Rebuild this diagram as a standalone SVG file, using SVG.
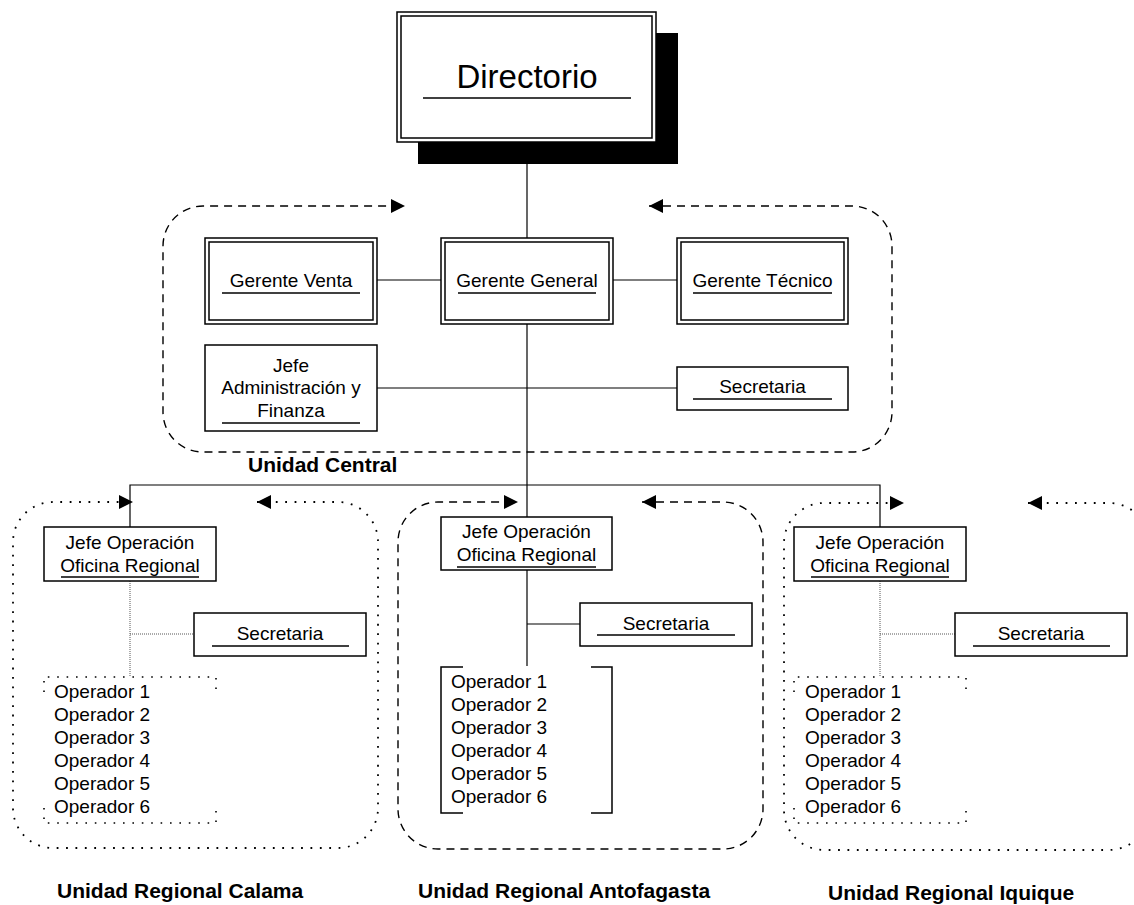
<svg xmlns="http://www.w3.org/2000/svg" width="1134" height="905" viewBox="0 0 1134 905">
  <style>
    text { font-family: "Liberation Sans", Arial, sans-serif; fill: #000; }
    .t { font-size: 19px; text-anchor: middle; }
    .op { font-size: 19px; }
    .big { font-size: 33px; text-anchor: middle; }
    .lbl { font-size: 21px; font-weight: bold; }
    .box { fill: #fff; stroke: #000; stroke-width: 1.5; }
    .ul { stroke: #000; stroke-width: 1.5; }
    .ln { fill: none; stroke: #000; stroke-width: 1.2; }
    .fine { fill: none; stroke: #555; stroke-width: 1; stroke-dasharray: 1 1; }
    .dash { fill: none; stroke: #000; stroke-width: 1.4; stroke-dasharray: 8 6; }
    .dot { fill: none; stroke: #000; stroke-width: 1.8; stroke-dasharray: 1.8 7.6; }
    .dotbox { fill: none; stroke: #000; stroke-width: 1.6; stroke-dasharray: 1.6 7.8; }
  </style>
  <defs>
    <marker id="tri" viewBox="0 0 10 10" refX="10" refY="5" markerUnits="userSpaceOnUse" markerWidth="15" markerHeight="14" orient="auto-start-reverse">
      <path d="M0,0 L10,5 L0,10 Z" fill="#000"/>
    </marker>
  </defs>

  <!-- unit outlines -->
  <g id="unidad-central">
    <path class="dash" d="M649,206 H852 A40,40 0 0 1 892,246 V412 A40,40 0 0 1 852,452 H203 A40,40 0 0 1 163,412 V246 A40,40 0 0 1 203,206 H405" marker-start="url(#tri)" marker-end="url(#tri)"/>
    <text class="lbl" x="248" y="472">Unidad Central</text>
  </g>
  <g id="unidad-calama">
    <path class="dot" d="M257,502 H338 A40,40 0 0 1 378,542 V808 A40,40 0 0 1 338,848 H53 A40,40 0 0 1 13,808 V542 A40,40 0 0 1 53,502 H133" marker-start="url(#tri)" marker-end="url(#tri)"/>
    <text class="lbl" x="57" y="898">Unidad Regional Calama</text>
  </g>
  <g id="unidad-antofagasta">
    <path class="dash" d="M642,502 H723 A40,40 0 0 1 763,542 V809 A40,40 0 0 1 723,849 H438 A40,40 0 0 1 398,809 V542 A40,40 0 0 1 438,502 H518" marker-start="url(#tri)" marker-end="url(#tri)"/>
    <text class="lbl" x="418" y="898">Unidad Regional Antofagasta</text>
  </g>
  <g id="unidad-iquique">
    <path class="dot" d="M1028,503 H1109 A40,40 0 0 1 1149,543 V810 A40,40 0 0 1 1109,850 H824 A40,40 0 0 1 784,810 V543 A40,40 0 0 1 824,503 H904" marker-start="url(#tri)" marker-end="url(#tri)"/>
    <text class="lbl" x="828" y="900">Unidad Regional Iquique</text>
  </g>

  <!-- connectors -->
  <g id="connectors">
    <line class="ln" x1="527" y1="164" x2="527" y2="238"/>
    <line class="ln" x1="377" y1="280" x2="441" y2="280"/>
    <line class="ln" x1="613" y1="280" x2="677" y2="280"/>
    <line class="ln" x1="527" y1="324" x2="527" y2="517"/>
    <line class="ln" x1="377" y1="388" x2="677" y2="388"/>
    <polyline class="ln" points="130,527 130,485 880,485 880,527"/>
    <line class="ln" x1="527" y1="570" x2="527" y2="666"/>
    <line class="ln" x1="527" y1="624" x2="580" y2="624"/>
    <line class="fine" x1="130" y1="581" x2="130" y2="677"/>
    <line class="fine" x1="130" y1="634" x2="194" y2="634"/>
    <line class="fine" x1="880" y1="581" x2="880" y2="677"/>
    <line class="fine" x1="880" y1="634" x2="955" y2="634"/>
  </g>

  <!-- top node -->
  <g id="directorio">
    <rect x="418" y="33" width="260" height="131" fill="#000"/>
    <rect class="box" x="397" y="12" width="259" height="130"/>
    <rect class="box" x="401" y="16" width="251" height="122"/>
    <text class="big" x="527" y="88">Directorio</text>
    <line class="ul" x1="423" y1="98" x2="631" y2="98"/>
  </g>

  <g id="gerente-venta">
    <rect class="box" x="205" y="238" width="172" height="86"/>
    <rect class="box" x="209" y="242" width="164" height="78"/>
    <text class="t" x="291" y="287">Gerente Venta</text>
    <line class="ul" x1="222" y1="293" x2="360" y2="293"/>
  </g>
  <g id="gerente-general">
    <rect class="box" x="441" y="238" width="172" height="86"/>
    <rect class="box" x="445" y="242" width="164" height="78"/>
    <text class="t" x="527" y="287">Gerente General</text>
    <line class="ul" x1="458" y1="293" x2="596" y2="293"/>
  </g>
  <g id="gerente-tecnico">
    <rect class="box" x="677" y="238" width="171" height="86"/>
    <rect class="box" x="681" y="242" width="163" height="78"/>
    <text class="t" x="762.5" y="287">Gerente Técnico</text>
    <line class="ul" x1="693" y1="293" x2="832" y2="293"/>
  </g>
  <g id="jefe-administracion">
    <rect class="box" x="205" y="345" width="172" height="86"/>
    <text class="t" x="291" y="372">Jefe</text>
    <text class="t" x="291" y="394">Administración y</text>
    <text class="t" x="291" y="417">Finanza</text>
    <line class="ul" x1="222" y1="423" x2="360" y2="423"/>
  </g>
  <g id="secretaria-central">
    <rect class="box" x="677" y="367" width="171" height="43"/>
    <text class="t" x="762.5" y="393">Secretaria</text>
    <line class="ul" x1="693" y1="399" x2="832" y2="399"/>
  </g>

  <!-- Calama -->
  <g id="jefe-calama">
    <rect class="box" x="44" y="527" width="172" height="54"/>
    <text class="t" x="130" y="549">Jefe Operación</text>
    <text class="t" x="130" y="572">Oficina Regional</text>
    <line class="ul" x1="61" y1="577" x2="199" y2="577"/>
  </g>
  <g id="secretaria-calama">
    <rect class="box" x="194" y="613" width="172" height="43"/>
    <text class="t" x="280" y="640">Secretaria</text>
    <line class="ul" x1="212" y1="646" x2="349" y2="646"/>
  </g>
  <g id="operadores-calama">
    <path class="dotbox" d="M44,692 V677 H216 V692"/>
    <path class="dotbox" d="M44,808 V823 H216 V808"/>
    <text class="op" x="54" y="698">Operador 1</text>
    <text class="op" x="54" y="721">Operador 2</text>
    <text class="op" x="54" y="744">Operador 3</text>
    <text class="op" x="54" y="767">Operador 4</text>
    <text class="op" x="54" y="790">Operador 5</text>
    <text class="op" x="54" y="813">Operador 6</text>
  </g>

  <!-- Antofagasta -->
  <g id="jefe-antofagasta">
    <rect class="box" x="441" y="517" width="171" height="53"/>
    <text class="t" x="526.5" y="538">Jefe Operación</text>
    <text class="t" x="526.5" y="561">Oficina Regional</text>
    <line class="ul" x1="457" y1="567" x2="596" y2="567"/>
  </g>
  <g id="secretaria-antofagasta">
    <rect class="box" x="580" y="603" width="172" height="43"/>
    <text class="t" x="666" y="630">Secretaria</text>
    <line class="ul" x1="597" y1="635" x2="735" y2="635"/>
  </g>
  <g id="operadores-antofagasta">
    <path class="ln" style="stroke-width:1.5" d="M463,667 H441 V813 H463"/>
    <path class="ln" style="stroke-width:1.5" d="M591,667 H612 V813 H591"/>
    <text class="op" x="451" y="688">Operador 1</text>
    <text class="op" x="451" y="711">Operador 2</text>
    <text class="op" x="451" y="734">Operador 3</text>
    <text class="op" x="451" y="757">Operador 4</text>
    <text class="op" x="451" y="780">Operador 5</text>
    <text class="op" x="451" y="803">Operador 6</text>
  </g>

  <!-- Iquique -->
  <g id="jefe-iquique">
    <rect class="box" x="794" y="527" width="172" height="54"/>
    <text class="t" x="880" y="549">Jefe Operación</text>
    <text class="t" x="880" y="572">Oficina Regional</text>
    <line class="ul" x1="811" y1="577" x2="949" y2="577"/>
  </g>
  <g id="secretaria-iquique">
    <rect class="box" x="955" y="613" width="172" height="43"/>
    <text class="t" x="1041" y="640">Secretaria</text>
    <line class="ul" x1="973" y1="646" x2="1110" y2="646"/>
  </g>
  <g id="operadores-iquique">
    <path class="dotbox" d="M794,692 V677 H966 V692"/>
    <path class="dotbox" d="M794,808 V823 H966 V808"/>
    <text class="op" x="805" y="698">Operador 1</text>
    <text class="op" x="805" y="721">Operador 2</text>
    <text class="op" x="805" y="744">Operador 3</text>
    <text class="op" x="805" y="767">Operador 4</text>
    <text class="op" x="805" y="790">Operador 5</text>
    <text class="op" x="805" y="813">Operador 6</text>
  </g>
</svg>
